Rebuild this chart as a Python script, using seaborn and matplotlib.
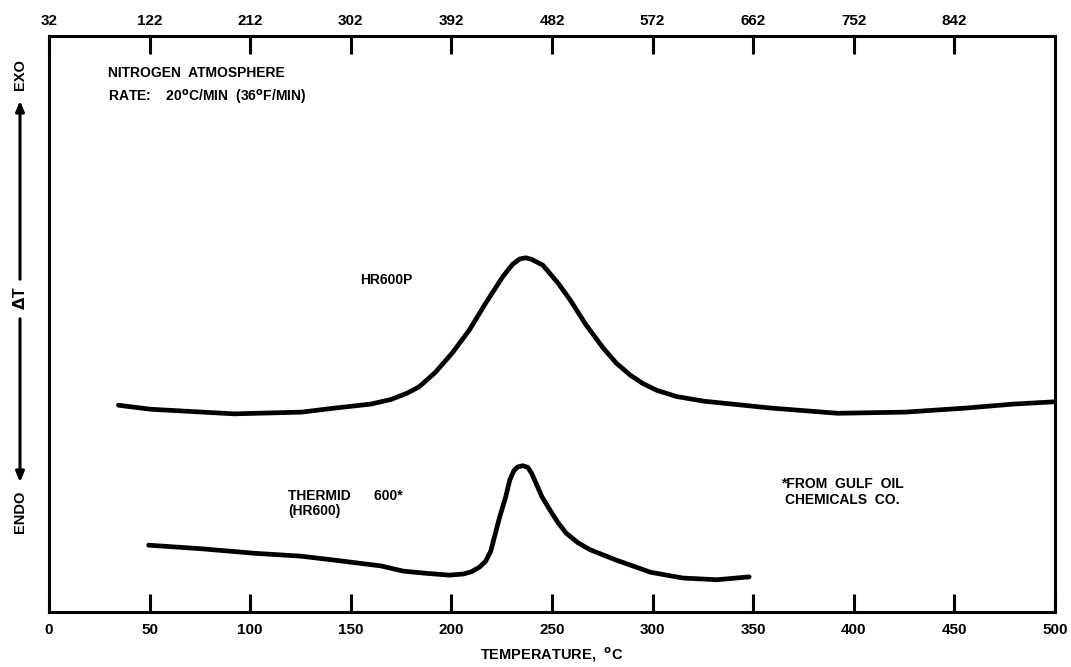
import matplotlib
matplotlib.use("Agg")
import matplotlib.pyplot as plt
import seaborn as sns
import pandas as pd

# ---- data ----
hr600p_temp = [34.5, 50.5, 92, 125.5, 142, 160, 170, 178, 184, 192, 200.5, 209, 217, 225.5, 230.5,
               234, 237, 240, 245.5, 253, 259, 267, 275.5, 282, 289, 295, 302, 312, 325.5, 359,
               392, 425.5, 455.5, 479.5, 500]
hr600p_dt = [35.9, 35.2, 34.4, 34.7, 35.4, 36.1, 36.9, 38.0, 39.1, 41.6, 45.0, 49.0, 53.6, 58.2, 60.4,
             61.3, 61.5, 61.2, 60.2, 57.1, 54.2, 49.8, 45.8, 43.2, 41.1, 39.7, 38.5, 37.4, 36.6, 35.4,
             34.5, 34.7, 35.4, 36.1, 36.5]

thermid_temp = [49.5, 75, 102, 125, 142, 165, 176, 188, 199, 206, 210, 214, 217, 219.5, 221, 224,
                227, 229, 231, 233, 235.5, 238, 240, 242, 245, 249, 253, 257, 263, 269, 282, 299,
                315, 332, 348]
thermid_dt = [11.6, 11.0, 10.2, 9.7, 9.0, 8.0, 7.1, 6.7, 6.4, 6.6, 7.0, 7.8, 8.8, 10.5, 12.5, 16.5,
              20.0, 22.9, 24.5, 25.2, 25.4, 25.1, 24.0, 22.4, 20.0, 17.7, 15.5, 13.7, 12.0, 10.8, 9.0,
              6.9, 5.9, 5.6, 6.1]

c_ticks = [0, 50, 100, 150, 200, 250, 300, 350, 400, 450, 500]
f_tick_pos = [0, 50, 100, 150, 200, 250, 300, 350, 400, 450]
f_tick_labels = ["32", "122", "212", "302", "392", "482", "572", "662", "752", "842"]

sns.set_theme(style="white")
plt.rcParams['font.family'] = ['Liberation Sans', 'DejaVu Sans']
plt.rcParams['font.weight'] = 'bold'
plt.rcParams['mathtext.default'] = 'bf'
for k in ['text.color', 'axes.labelcolor', 'xtick.color', 'ytick.color']:
    plt.rcParams[k] = 'black'

fig = plt.figure(figsize=(10.71, 6.67), dpi=100)
ax = fig.add_axes([49/1071, 1 - 612/667, (1055 - 49)/1071, (612 - 36)/667])

df1 = pd.DataFrame({"T": hr600p_temp, "dT": hr600p_dt})
df2 = pd.DataFrame({"T": thermid_temp, "dT": thermid_dt})
sns.lineplot(data=df1, x="T", y="dT", ax=ax, color="black", lw=3.4, sort=False,
             solid_capstyle='round', solid_joinstyle='round')
sns.lineplot(data=df2, x="T", y="dT", ax=ax, color="black", lw=3.4, sort=False,
             solid_capstyle='round', solid_joinstyle='round')

ax.set_xlim(0, 500)
ax.set_ylim(0, 100)
ax.set_xticks(c_ticks)
ax.set_xticklabels([str(v) for v in c_ticks], fontsize=11, fontweight='heavy')
ax.set_yticks([])
ax.set_ylabel("")
ax.set_xlabel(r"TEMPERATURE,  $^{\mathbf{o}}$C", fontsize=10.5, fontweight='heavy')
ax.xaxis.set_label_coords(0.5, -0.058)
ax.tick_params(axis='x', direction='in', length=13, width=2.2, pad=8, color='black',
               bottom=True, top=False)
for s in ax.spines.values():
    s.set_visible(True)
    s.set_color('black')
    s.set_linewidth(2.2)

ax2 = ax.twiny()
ax2.set_xlim(ax.get_xlim())
ax2.set_xticks(f_tick_pos)
ax2.set_xticklabels(f_tick_labels, fontsize=11, fontweight='heavy')
ax2.tick_params(axis='x', direction='in', length=13, width=2.2, pad=6, color='black')
for s in ax2.spines.values():
    s.set_visible(False)

# annotations
fs = 10
ax.text(29.5, 93.6, "NITROGEN  ATMOSPHERE", fontsize=fs, fontweight='heavy', va='center', ha='left')
ax.text(29.5, 89.3, r"RATE:    20$^{\mathbf{o}}$C/MIN  (36$^{\mathbf{o}}$F/MIN)", fontsize=fs,
        fontweight='heavy', va='center', ha='left')
ax.text(167.5, 57.6, "HR600P", fontsize=fs, fontweight='heavy', va='center', ha='center')
ax.text(119, 20.1, "THERMID      600*", fontsize=fs, fontweight='heavy', va='center', ha='left')
ax.text(119, 17.5, "(HR600)", fontsize=fs, fontweight='heavy', va='center', ha='left')
ax.text(394.5, 22.2, "*FROM  GULF  OIL", fontsize=fs, fontweight='heavy', va='center', ha='center')
ax.text(394.5, 19.4, "CHEMICALS  CO.", fontsize=fs, fontweight='heavy', va='center', ha='center')

# left side EXO / dT / ENDO
fx = 20 / 1071
def fy(py):
    return 1 - py / 667
fig.text(fx, fy(75), "EXO", rotation=90, fontsize=10.5, fontweight='heavy', ha='center', va='center')
fig.text(fx, fy(298), r"$\Delta$T", rotation=90, fontsize=11.5, fontweight='heavy', ha='center', va='center')
fig.text(fx, fy(512), "ENDO", rotation=90, fontsize=10.5, fontweight='heavy', ha='center', va='center')
fig.patches.append(matplotlib.patches.FancyArrowPatch((fx, fy(282)), (fx, fy(98)),
                   transform=fig.transFigure, arrowstyle='-|>,head_length=6,head_width=2.5',
                   lw=2.2, color='black'))
fig.patches.append(matplotlib.patches.FancyArrowPatch((fx, fy(316)), (fx, fy(485)),
                   transform=fig.transFigure, arrowstyle='-|>,head_length=6,head_width=2.5',
                   lw=2.2, color='black'))

fig.savefig("out.png", dpi=100, facecolor='white')
